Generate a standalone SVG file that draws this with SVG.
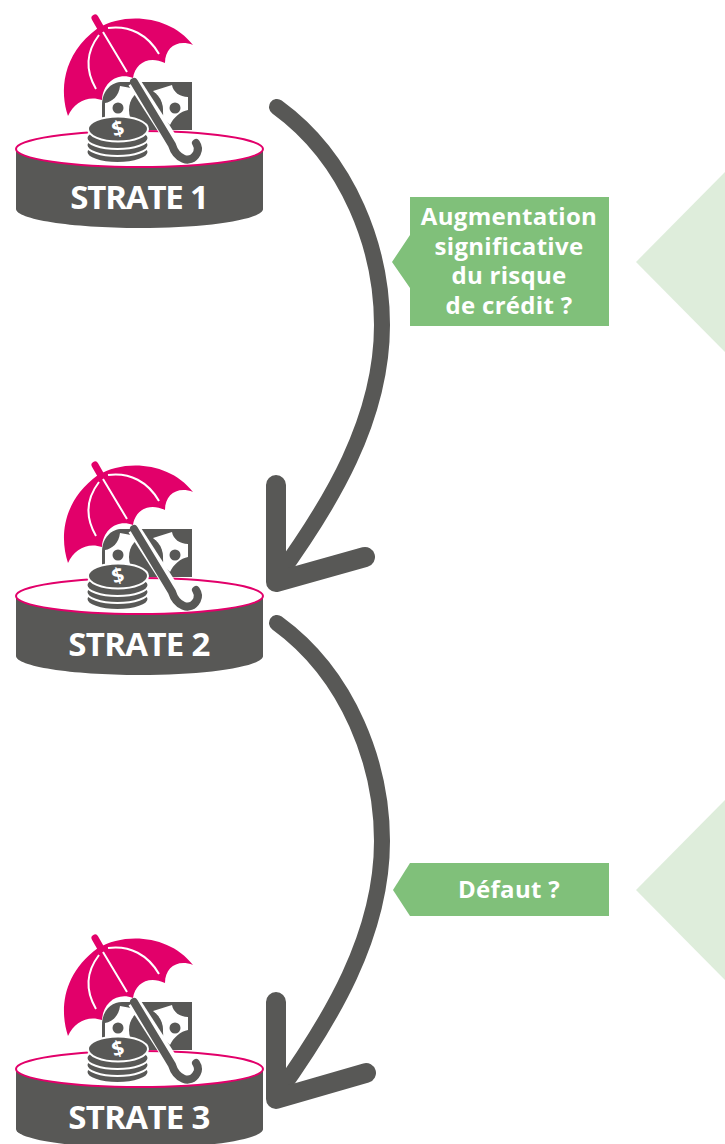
<svg xmlns="http://www.w3.org/2000/svg" width="725" height="1144" viewBox="0 0 725 1144">
<style>
.g{fill:#585856}
.lbl{font-family:"Open Sans","Noto Sans",sans-serif;font-weight:700;fill:#fff;text-anchor:middle}
.st{font-size:33px;letter-spacing:-1.2px}
.st2{letter-spacing:-0.700px}
.q{font-size:24px;letter-spacing:0.300px}
.cur{fill:none;stroke:#585856;stroke-width:16;stroke-linecap:round}
.head{fill:none;stroke:#585856;stroke-width:20;stroke-linecap:round;stroke-linejoin:round}
.rib{fill:none;stroke:#fff;stroke-width:2}
</style>
<defs>
<g id="icon">
<path class="g" d="M16,149V209C16,219 70,228 139.500,228C209,228 263,219 263,209V149Z"/>
<ellipse cx="139.500" cy="149" rx="123.500" ry="18" fill="#fff" stroke="#e2006a" stroke-width="2"/>
<path d="M95,18L103,32" stroke="#e2006a" stroke-width="7" stroke-linecap="round"/>
<path fill="#e2006a" d="M68,116C60,92 61,55 98,28C125,12 170,15 193,45C178,39 165,47 165,63C148,55 135,64 133,78C118,72 103,82 102,100C88,95 74,102 68,116Z"/>
<path class="rib" d="M96,89C85,70 86,52 99,35M108,28C130,25 148,35 159,54M103,32L127,72"/>
<path class="g" d="M138,82H192V130H102V105C102,90 112,82 122,82Z"/>
<path fill="#fff" d="M120,86C119,96 112,102 105,103V130H135V105C135,98 138,94 142,90ZM172,85C173,92 180,97 188,97V110C181,111 173,118 170,125L163,118C164,108 161,98 153,91Z"/>
<ellipse class="g" cx="146" cy="110" rx="17" ry="20"/>
<circle class="g" cx="118" cy="108" r="5.500"/>
<circle class="g" cx="175" cy="108" r="5.500"/>
<path fill="none" stroke="#fff" stroke-width="13" d="M134,82L172,141"/>
<path fill="none" stroke="#585856" stroke-width="8" stroke-linecap="round" d="M134,82L172,145C176,158 190,166 197,153C199,149 198,146 196,143"/>
<g stroke="#fff" stroke-width="2">
<ellipse class="g" cx="117.500" cy="152" rx="31" ry="11"/>
<ellipse class="g" cx="117.500" cy="145" rx="31" ry="11"/>
<ellipse class="g" cx="117.500" cy="138" rx="31" ry="11"/>
<ellipse class="g" cx="118" cy="129" rx="30" ry="12.500"/>
</g>
<text x="118" y="136" transform="rotate(-15 118 129)" text-anchor="middle" font-family="'Open Sans',sans-serif" font-weight="700" font-size="21" fill="#fff">$</text>
</g>
</defs>
<g id="hints">
<path fill="#deeddb" d="M725,172L636,262L725,352Z"/>
<path fill="#deeddb" d="M725,800L636,890L725,980Z"/>
</g>
<g id="connectors">
<path class="cur" d="M277,107C350,160 382,250 382,325C382,420 330,505 277,578"/>
<path class="head" d="M276,485V582L365,557"/>
<path class="cur" d="M277,623C350,676 382,766 382,841C382,936 330,1021 277,1095"/>
<path class="head" d="M276,1002V1099L366,1073"/>
</g>
<g id="strate1"><use href="#icon"/><text class="lbl st" x="139" y="209">STRATE 1</text></g>
<g id="strate2"><use href="#icon" y="447"/><text class="lbl st st2" x="139" y="656">STRATE 2</text></g>
<g id="strate3"><use href="#icon" y="920"/><text class="lbl st st2" x="139" y="1129">STRATE 3</text></g>
<g id="question1">
<path fill="#80c07a" d="M410,197H609V326H410V288L392,262L410,235Z"/>
<text class="lbl q"><tspan x="509" y="225">Augmentation</tspan><tspan x="509" y="255">significative</tspan><tspan x="509" y="284">du risque</tspan><tspan x="509" y="314">de crédit ?</tspan></text>
</g>
<g id="question2">
<path fill="#80c07a" d="M410,863H609V916H410L393,890Z"/>
<text class="lbl q" x="509" y="898">Défaut ?</text>
</g>
</svg>
